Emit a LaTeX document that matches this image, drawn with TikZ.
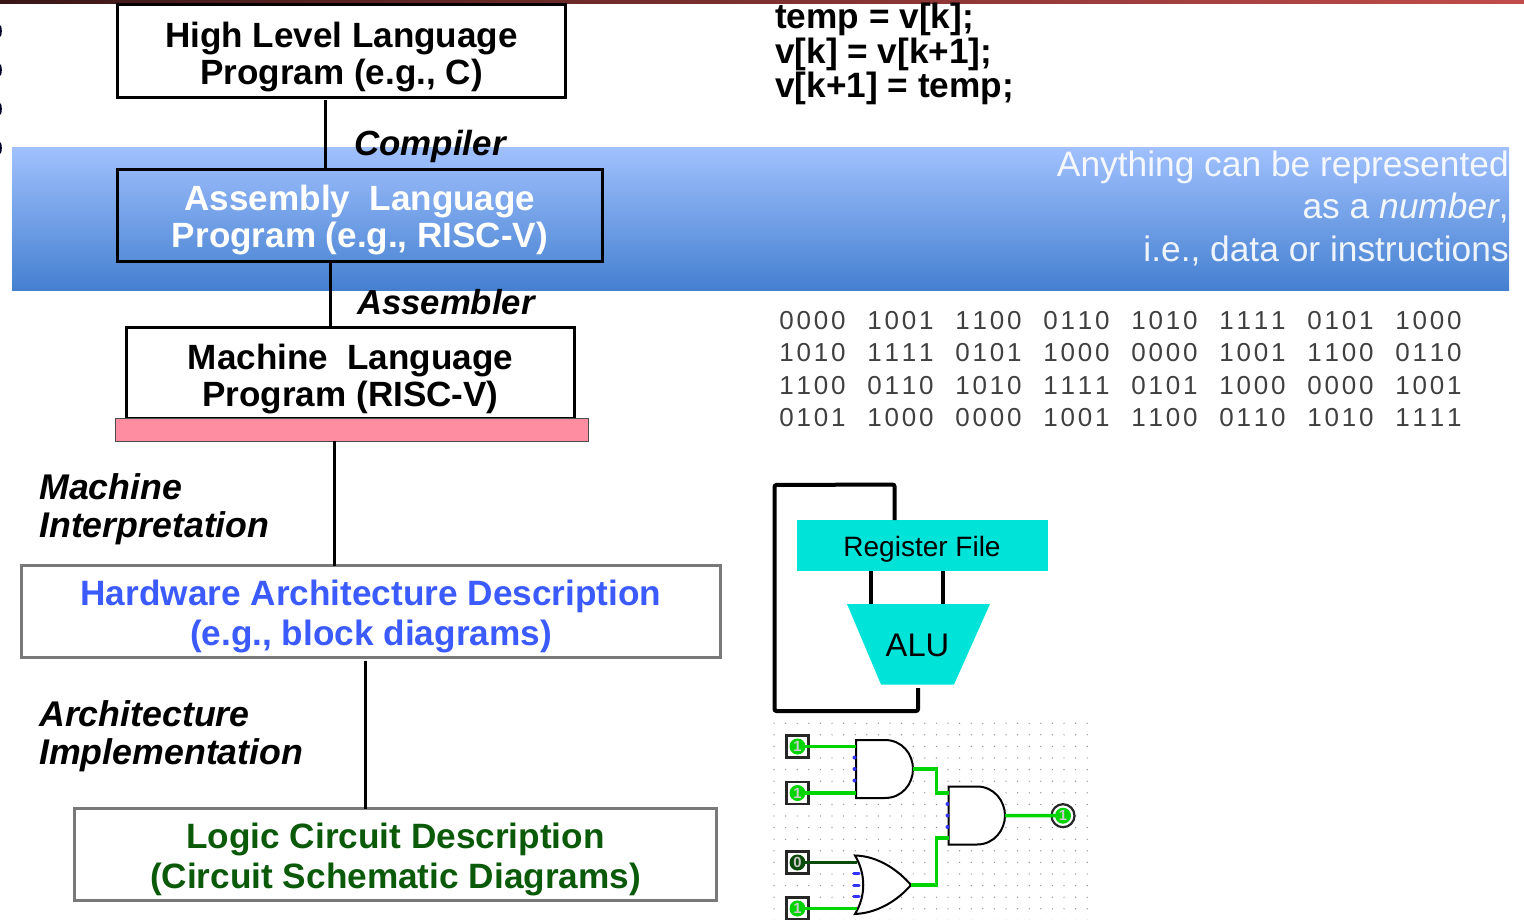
\documentclass[tikz,border=0pt]{standalone}
\usepackage{fontspec}
\setmainfont{Liberation Sans}
\usetikzlibrary{calc}
\newdimen\px \px=.75pt
\definecolor{cyanbox}{HTML}{00E3D8}
\definecolor{wiregreen}{HTML}{00D400}
\definecolor{wiredark}{HTML}{0A4A0A}
\definecolor{hwblue}{HTML}{3B5BFF}
\definecolor{logicgreen}{HTML}{0A5A0A}
\definecolor{pinkbar}{HTML}{FF8DA1}
\definecolor{bantop}{HTML}{A0C0FD}
\definecolor{banbot}{HTML}{4480D0}
\definecolor{barl}{HTML}{3A1616}
\definecolor{barr}{HTML}{C24C4A}
\tikzset{
  x=.75pt,y=-.75pt,
  levelbox/.style={draw=black,line width=3\px,minimum width=#1,inner sep=0pt,outer sep=0pt},
  graybox/.style={levelbox=#1,draw=gray!95!black},
  leveltext/.style={inner sep=0pt,align=center,font=\fontsize{26.3}{27.6}\selectfont\bfseries},
  widetext/.style={inner sep=0pt,align=center,font=\fontsize{26.4}{29.3}\selectfont\bfseries},
  steplabel/.style={anchor=base west,inner sep=0pt,font=\fontsize{26.8}{28}\selectfont\bfseries\itshape},
  link/.style={draw=black,line width=3\px},
  cpuwire/.style={draw=black,line width=4\px},
  wireon/.style={draw=wiregreen,line width=3.5\px},
  wireoff/.style={draw=wiredark,line width=3.5\px},
  gate/.style={draw=black,line width=2\px,fill=none},
  pinbox/.style={draw=black!85,fill=white,line width=2.2\px,minimum size=22\px,inner sep=0pt,outer sep=0pt},
  pinval/.style={circle,fill=#1,minimum size=16\px,inner sep=0pt,text=white!80!black,font=\fontsize{11}{11}\selectfont\bfseries},
  bits/.style={anchor=base west,inner sep=0pt,text=black!75,font=\fontsize{19.5}{20}\selectfont\addfontfeature{Kerning=Off,LetterSpace=11}},
  notetext/.style={anchor=base east,inner sep=0pt,text=white,opacity=.9,font=\fontsize{26.5}{27}\selectfont},
  codetext/.style={anchor=base west,inner sep=0pt,font=\fontsize{26.4}{28}\selectfont\bfseries},
}
\begin{document}
\begin{tikzpicture}
\useasboundingbox (0,0) rectangle (1524,920);
% top bar and cropped bullets
\shade[left color=barl,right color=barr] (0,0) rectangle (1524,3.5);
\foreach \yy in {31,70,109,148}{\fill[black!85!blue] (0,\yy) ellipse[x radius=1.8,y radius=6];}
% banner
\shade[top color=bantop,bottom color=banbot] (12,148) rectangle (1509,290.7);
% anchors for vertical links
\coordinate (la) at (325,0); \coordinate (lb) at (330,0); \coordinate (lc) at (334,0); \coordinate (ld) at (365,0);
% level boxes
\node[levelbox=448\px,minimum height=93\px] (high) at (341.2,51.5) {};
\node[leveltext] (hight) at (341.5,57.3) {High Level Language\\Program (e.g., C)};
\node[levelbox=485\px,minimum height=92\px] (asm) at (359.7,215.5) {};
\node[leveltext,text=white] (asmt) at (360,220.3) {Assembly\ \ Language\\Program (e.g., RISC-V)};
\node[levelbox=448\px,minimum height=91\px,anchor=north] (mach) at (350.2,327) {};
\node[leveltext] (macht) at (350.5,379.2) {Machine\ \ Language\\Program (RISC-V)};
\node[draw=black!70,fill=pinkbar,line width=.8\px,minimum width=473\px,minimum height=23\px,inner sep=0pt,outer sep=0pt] (pink) at (351.5,429.5) {};
\node[graybox=699\px,minimum height=92\px] (hw) at (370.7,611.5) {};
\node[widetext,text=hwblue] (hwt) at (371,616.5) {Hardware Architecture Description\\(e.g., block diagrams)};
\node[graybox=642\px,minimum height=92\px] (logic) at (395.2,854.5) {};
\node[widetext,text=logicgreen] (logict) at (395.5,859.5) {Logic Circuit Description\\(Circuit Schematic Diagrams)};
% links
\draw[link] ($(high.south -| la)+(0,2)$) -- (asm.north -| la);
\draw[link] (asm.south -| lb) -- (mach.north -| lb);
\draw[link] (pink.south -| lc) -- (hw.north -| lc);
\draw[link] ($(hw.south -| ld)+(0,3)$) -- (logic.north -| ld);
% step labels
\node[steplabel,font=\fontsize{26.2}{28}\selectfont\bfseries\itshape] (compiler) at (354,156) {Compiler};
\node[steplabel,font=\fontsize{26}{28}\selectfont\bfseries\itshape] (assembler) at (357,314) {Assembler};
\node[steplabel] (machine) at (39,499) {Machine};
\node[steplabel] (interp) at (39,537) {Interpretation};
\node[steplabel] (archi) at (39,726) {Architecture};
\node[steplabel] (impl) at (39,764) {Implementation};
% code
\node[codetext] (c1) at (775,29) {temp = v[k];};
\node[codetext] (c2) at (775,63.5) {v[k] = v[k+1];};
\node[codetext] (c3) at (775,97.5) {v[k+1] = temp;};
% note
\node[notetext] (n1) at (1509,176) {Anything can be represented};
\node[notetext] (n2) at (1509,219) {as a \textit{number},};
\node[notetext] (n3) at (1509,261) {i.e., data or instructions};
% binary
\foreach \row/\yy/\ga/\gb/\gc/\gd/\ge/\gf/\gg/\gh in {
  1/329/0000/1001/1100/0110/1010/1111/0101/1000,
  2/361/1010/1111/0101/1000/0000/1001/1100/0110,
  3/394/1100/0110/1010/1111/0101/1000/0000/1001,
  4/426/0101/1000/0000/1001/1100/0110/1010/1111}{
  \node[bits] (b\row a) at (779,\yy) {\ga};
  \node[bits] (b\row b) at (867,\yy) {\gb};
  \node[bits] (b\row c) at (955,\yy) {\gc};
  \node[bits] (b\row d) at (1043,\yy) {\gd};
  \node[bits] (b\row e) at (1131,\yy) {\ge};
  \node[bits] (b\row f) at (1219,\yy) {\gf};
  \node[bits] (b\row g) at (1307,\yy) {\gg};
  \node[bits] (b\row h) at (1395,\yy) {\gh};
}
% register file + ALU
\node[fill=cyanbox,minimum width=251\px,minimum height=51\px,inner sep=0pt,outer sep=0pt] (rf) at (922.5,545.5) {};
\node[inner sep=0pt,font=\fontsize{21}{22}\selectfont] (rft) at (922,549) {Register File};
\fill[cyanbox] (847,604) -- (990,604) -- (954,684.5) -- (881,684.5) -- cycle;
\node[inner sep=0pt,font=\fontsize{24.5}{25}\selectfont] (alu) at (917.5,645.5) {ALU};
\coordinate (alubot) at (918,688);
\coordinate (loopa) at (894.5,0);
\coordinate (ra) at (870.5,604); \coordinate (rb) at (942.5,604);
\draw[cpuwire,rounded corners=1.5pt] (rf.north -| loopa) -- ++(0,-35.5) -- (774.5,485) -- (774.5,711) -- (918,711) -- (alubot);
\draw[cpuwire] (rf.south -| ra) -- (ra);
\draw[cpuwire] (rf.south -| rb) -- (rb);
% logisim grid
\foreach \i in {0,...,27}{\foreach \j in {0,...,17}{
  \fill[black!45] ({774+\i*11.6},{723.2+\j*11.6}) circle[radius=.7];}}
% gates
\draw[gate,fill=white] (856,740) -- (885,740) .. controls (902,740) and (913,754) .. (913,769) .. controls (913,784) and (902,798) .. (885,798) -- (856,798) -- cycle;
\draw[gate,fill=white] (948.5,786.5) -- (977,786.5) .. controls (994,786.5) and (1005,801) .. (1005,815.5) .. controls (1005,830) and (994,844.5) .. (977,844.5) -- (948.5,844.5) -- cycle;
\draw[gate,fill=white] (855,855.5) .. controls (878,856) and (898,870) .. (911,885) .. controls (898,900) and (878,913) .. (855,914) .. controls (866,896) and (866,874) .. (855,855.5) -- cycle;
\foreach \p in {(854.5,757.5),(854.5,769),(854.5,780.5),(947.5,804),(947.5,815.5),(947.5,827)}{\fill[blue!80!white] \p circle[radius=2];}
\foreach \yy in {873.5,885,896.5}{\draw[blue!80!white,line width=3\px,line cap=round] (853.5,\yy) -- (859,\yy);}
\coordinate (g1) at (913,769); \coordinate (g2) at (1005,815.5); \coordinate (g3) at (911,885);
% pins
\node[pinbox] (p1) at (797.5,746.5) {};
\node[pinbox] (p2) at (797.5,793) {};
\node[pinbox] (p3) at (797.5,862.5) {};
\node[pinbox] (p4) at (797.5,908.5) {};
\node[circle,draw=black!85,fill=white,line width=2.2\px,minimum size=23\px,inner sep=0pt,outer sep=0pt] (p5) at (1063,815.7) {};
% wires
\draw[wireon] (p1.center) -- (856,746.5);
\draw[wireon] (p2.center) -- (856,793);
\draw[wireoff] (p3.center) -- (857,862.5);
\draw[wireon] (p4.center) -- (857,908.5);
\draw[wireon] (g1) -- (936.5,769) -- (936.5,793) -- (948.5,793);
\draw[wireon] (g3) -- (936.5,885) -- (936.5,838) -- (948.5,838);
\draw[wireon] (g2) -- (p5.center);
\node[pinval=wiregreen] (v1) at (p1) {1};
\node[pinval=wiregreen] (v2) at (p2) {1};
\node[pinval=wiredark] (v3) at (p3) {0};
\node[pinval=wiregreen] (v4) at (p4) {1};
\node[pinval=wiregreen] (v5) at (p5) {1};
\end{tikzpicture}
\end{document}
